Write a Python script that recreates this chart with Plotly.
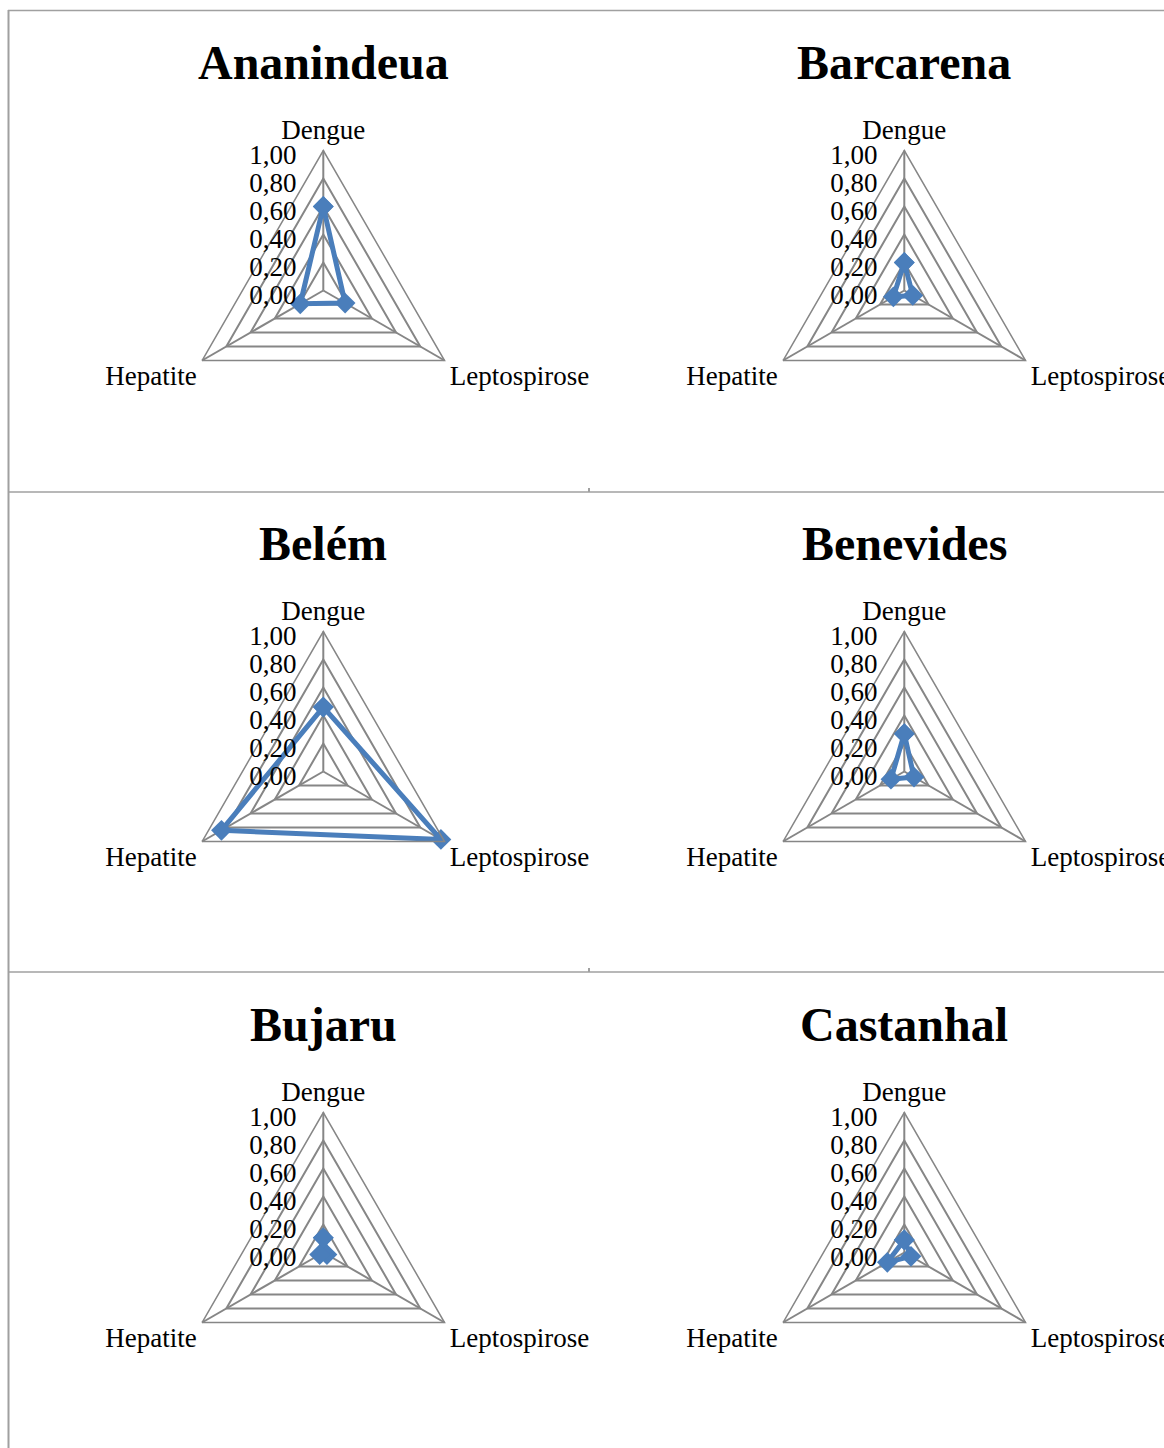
import plotly.graph_objects as go

W, H = 1164, 1448

cities = ["Ananindeua", "Barcarena", "Belém", "Benevides", "Bujaru", "Castanhal"]
diseases = ["Dengue", "Leptospirose", "Hepatite"]
dengue = [0.60, 0.20, 0.46, 0.27, 0.105, 0.09]
lepto = [0.18, 0.07, 0.97, 0.08, 0.03, 0.055]
hepat = [0.19, 0.09, 0.84, 0.11, 0.03, 0.14]
tick_vals = [0.0, 0.2, 0.4, 0.6, 0.8, 1.0]

SERIF = "Liberation Serif, Times New Roman, serif"
GRID = "#868686"
BLUE = "#4A7EBB"
BORDER = "#A0A0A0"

R = 140
CX0, CY0, DX, DY = 323.3, 290.5, 581, 481   # page coordinates


def px(x):
    return x / W


def py(y):
    return 1 - y / H


fig = go.Figure()
layout = dict(
    width=W, height=H, margin=dict(l=0, r=0, t=0, b=0),
    paper_bgcolor="white", plot_bgcolor="white",
    separators=",.", showlegend=False,
    font=dict(family=SERIF, color="black"),
    annotations=[], shapes=[],
)

for i, city in enumerate(cities):
    row, col = divmod(i, 2)
    cx = CX0 + DX * col
    cy = CY0 + DY * row
    key = "polar" if i == 0 else f"polar{i+1}"
    r_vals = [dengue[i], lepto[i], hepat[i]]
    fig.add_trace(go.Scatterpolar(
        r=r_vals + r_vals[:1], theta=diseases + diseases[:1],
        mode="lines+markers", subplot=key,
        line=dict(color=BLUE, width=5),
        marker=dict(symbol="diamond", size=16, color=BLUE),
        cliponaxis=False,
    ))
    layout[key] = dict(
        domain=dict(x=[px(cx - R), px(cx + R)],
                    y=[py(cy + R), py(cy - R)]),
        bgcolor="white",
        gridshape="linear",
        radialaxis=dict(range=[0, 1], tickvals=tick_vals, tickformat=".2f",
                        angle=90, side="counterclockwise", showline=False,
                        ticks="outside", ticklen=2, tickcolor="rgba(0,0,0,0)",
                        gridcolor=GRID, gridwidth=1.5,
                        tickfont=dict(family=SERIF, size=27, color="black")),
        angularaxis=dict(categoryorder="array", categoryarray=diseases,
                         rotation=90, direction="clockwise",
                         showline=True, linecolor=GRID, linewidth=1.5,
                         gridcolor=GRID, gridwidth=1.5, ticks="",
                         tickfont=dict(family=SERIF, size=27, color="black")),
    )
    layout["annotations"].append(dict(
        text=f"<b>{city}</b>", x=px(cx), y=py(62 + DY * row),
        xref="paper", yref="paper", xanchor="center", yanchor="middle",
        showarrow=False, font=dict(family=SERIF, size=48, color="black")))


def hline(y, x0, x1, w=1.5):
    return dict(type="line", xref="paper", yref="paper",
                x0=px(x0), x1=px(x1), y0=py(y), y1=py(y),
                line=dict(color=BORDER, width=w))


def vline(x, y0, y1, w=2):
    return dict(type="line", xref="paper", yref="paper",
                x0=px(x), x1=px(x), y0=py(y0), y1=py(y1),
                line=dict(color=BORDER, width=w))


layout["shapes"] += [
    hline(10.5, 8, W),
    vline(8.5, 10, H),
    hline(492, 8, W),
    hline(972, 8, W),
    vline(589, 488, 492, 2),
    vline(589, 968, 972, 2),
]

fig.update_layout(**layout)
fig.write_html(
    "out.html",
    config={"displayModeBar": False},
    post_script="document.body.style.margin='0';document.body.style.overflow='hidden';",
)
